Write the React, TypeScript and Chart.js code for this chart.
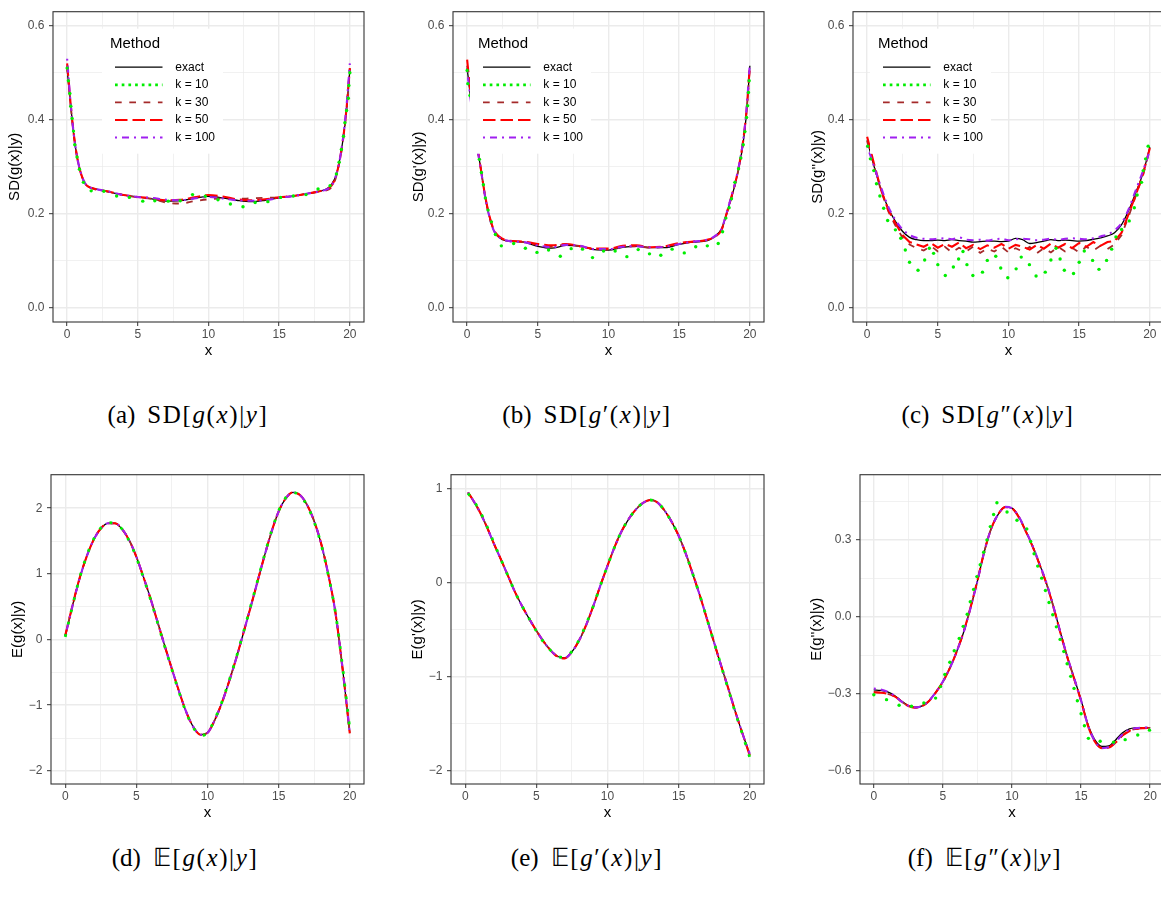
import React, { useEffect, useRef } from "react";
import { Chart, registerables } from "chart.js";

Chart.register(...registerables);

const SANS = "'Liberation Sans', Arial, Helvetica, sans-serif";
const SERIF = "'Liberation Serif', 'Times New Roman', serif";
Chart.defaults.font.family = SANS;

// ---------------- axes ----------------
const X_MIN = -1;
const X_MAX = 21;
const X_MAJOR = [0, 5, 10, 15, 20];
const X_MINOR = [2.5, 7.5, 12.5, 17.5];
const X_LABELS = ["0", "5", "10", "15", "20"];

const SD_MIN = -0.03;
const SD_MAX = 0.63;
const SD_MAJOR = [0, 0.2, 0.4, 0.6];
const SD_MINOR = [0.1, 0.3, 0.5];
const SD_LABELS = ["0.0", "0.2", "0.4", "0.6"];

const D_MIN = -2.2;
const D_MAX = 2.51;
const D_MAJOR = [-2, -1, 0, 1, 2];
const D_MINOR = [-1.5, -0.5, 0.5, 1.5];
const D_LABELS = ["\u22122", "\u22121", "0", "1", "2"];

const E_MIN = -2.142;
const E_MAX = 1.149;
const E_MAJOR = [-2, -1, 0, 1];
const E_MINOR = [-1.5, -0.5, 0.5];
const E_LABELS = ["\u22122", "\u22121", "0", "1"];

const F_MIN = -0.652;
const F_MAX = 0.5545;
const F_MAJOR = [-0.6, -0.3, 0, 0.3];
const F_MINOR = [-0.45, -0.15, 0.15, 0.45];
const F_LABELS = ["\u22120.6", "\u22120.3", "0.0", "0.3"];

// ---------------- legend ----------------
const LEGEND_TITLE = "Method";
const METHODS = ["exact", "k = 10", "k = 30", "k = 50", "k = 100"];

// ---------------- panel (a): SD[g(x)|y] ----------------
const xA = [0, 0.25, 0.5, 0.75, 1, 1.25, 1.5, 2, 3, 4, 5, 6, 7, 8, 9, 10, 11, 12, 13, 14, 15, 16, 17, 18, 18.5, 18.75, 19, 19.25, 19.5, 19.75, 20];
const exactA = [0.507, 0.43, 0.36, 0.313, 0.283, 0.265, 0.258, 0.253, 0.246, 0.24, 0.236, 0.232, 0.227, 0.228, 0.233, 0.237, 0.234, 0.229, 0.226, 0.229, 0.234, 0.238, 0.243, 0.249, 0.256, 0.265, 0.28, 0.31, 0.355, 0.418, 0.507];
const k30A = [0.515, 0.432, 0.362, 0.314, 0.284, 0.266, 0.258, 0.252, 0.247, 0.24, 0.235, 0.232, 0.224, 0.222, 0.227, 0.231, 0.233, 0.232, 0.233, 0.234, 0.235, 0.238, 0.243, 0.248, 0.252, 0.258, 0.276, 0.308, 0.352, 0.418, 0.51];
const k50A = [0.52, 0.433, 0.362, 0.314, 0.284, 0.266, 0.258, 0.253, 0.247, 0.24, 0.236, 0.233, 0.229, 0.23, 0.235, 0.24, 0.237, 0.231, 0.229, 0.231, 0.235, 0.238, 0.243, 0.249, 0.254, 0.262, 0.279, 0.309, 0.355, 0.42, 0.51];
const k100A = [0.53, 0.434, 0.362, 0.314, 0.284, 0.266, 0.258, 0.253, 0.247, 0.24, 0.236, 0.234, 0.23, 0.229, 0.233, 0.236, 0.233, 0.229, 0.228, 0.229, 0.234, 0.238, 0.243, 0.249, 0.254, 0.262, 0.28, 0.31, 0.357, 0.425, 0.52];
const k10Ax = [0, 0.09, 0.19, 0.26, 0.35, 0.45, 0.54, 0.7, 0.87, 1.15, 1.7, 2.6, 3.5, 4.4, 5.35, 6.2, 7.15, 8.0, 8.87, 9.77, 10.67, 11.55, 12.44, 13.3, 14.2, 15.1, 16.0, 16.9, 17.75, 18.6, 19.05, 19.24, 19.4, 19.55, 19.65, 19.77, 19.89, 19.93, 20];
const k10Ay = [0.51, 0.483, 0.456, 0.429, 0.403, 0.376, 0.347, 0.321, 0.295, 0.267, 0.249, 0.248, 0.238, 0.235, 0.227, 0.228, 0.227, 0.228, 0.241, 0.2375, 0.23, 0.221, 0.215, 0.224, 0.226, 0.235, 0.238, 0.241, 0.253, 0.26, 0.285, 0.31, 0.337, 0.365, 0.394, 0.42, 0.446, 0.473, 0.5];

// ---------------- panel (b): SD[g'(x)|y] ----------------
const xB = [0, 0.25, 0.5, 0.75, 1, 1.25, 1.5, 1.75, 2, 2.5, 3, 4, 5, 6, 7, 8, 9, 10, 11, 12, 13, 14, 15, 16, 17, 17.5, 18, 18.25, 18.5, 18.75, 19, 19.25, 19.5, 19.75, 20];
const exactB = [0.51, 0.445, 0.385, 0.335, 0.29, 0.24, 0.203, 0.175, 0.158, 0.145, 0.142, 0.14, 0.131, 0.127, 0.133, 0.131, 0.124, 0.123, 0.129, 0.131, 0.128, 0.128, 0.135, 0.14, 0.143, 0.152, 0.168, 0.19, 0.215, 0.24, 0.268, 0.302, 0.345, 0.41, 0.515];
const k30B = [0.515, 0.448, 0.386, 0.335, 0.29, 0.241, 0.204, 0.176, 0.159, 0.146, 0.142, 0.14, 0.134, 0.13, 0.135, 0.131, 0.125, 0.124, 0.13, 0.131, 0.128, 0.13, 0.137, 0.141, 0.144, 0.151, 0.167, 0.19, 0.215, 0.241, 0.269, 0.303, 0.347, 0.412, 0.512];
const k50B = [0.528, 0.455, 0.39, 0.337, 0.29, 0.242, 0.205, 0.177, 0.16, 0.147, 0.143, 0.141, 0.136, 0.133, 0.136, 0.131, 0.126, 0.126, 0.132, 0.133, 0.129, 0.131, 0.138, 0.141, 0.145, 0.151, 0.166, 0.19, 0.216, 0.242, 0.27, 0.305, 0.35, 0.415, 0.515];
const k100B = [0.505, 0.443, 0.384, 0.334, 0.289, 0.24, 0.203, 0.175, 0.158, 0.146, 0.142, 0.14, 0.133, 0.129, 0.134, 0.132, 0.125, 0.125, 0.13, 0.131, 0.129, 0.13, 0.136, 0.141, 0.145, 0.152, 0.168, 0.191, 0.217, 0.243, 0.271, 0.306, 0.35, 0.418, 0.52];
const k10Bx = [0, 0.05, 0.2, 0.87, 1.01, 1.15, 1.29, 1.48, 1.72, 2.0, 2.42, 3.29, 4.12, 4.94, 5.76, 6.59, 7.36, 8.16, 8.87, 9.65, 10.47, 11.3, 12.1, 12.9, 13.7, 14.5, 15.36, 16.17, 16.99, 17.76, 18.07, 18.3, 18.53, 18.7, 18.94, 19.2, 19.36, 19.53, 19.65, 19.77, 19.84, 19.9, 19.95];
const k10By = [0.505, 0.477, 0.452, 0.316, 0.288, 0.262, 0.234, 0.208, 0.183, 0.156, 0.132, 0.137, 0.127, 0.118, 0.123, 0.11, 0.126, 0.125, 0.107, 0.121, 0.121, 0.109, 0.124, 0.115, 0.112, 0.125, 0.117, 0.13, 0.132, 0.137, 0.162, 0.191, 0.213, 0.232, 0.267, 0.296, 0.319, 0.347, 0.375, 0.405, 0.43, 0.458, 0.483];

// ---------------- panel (c): SD[g''(x)|y] ----------------
const xC = [0, 0.5, 1, 1.5, 2, 2.5, 3, 3.5, 4, 4.5, 5, 5.5, 6, 6.5, 7, 7.5, 8, 8.5, 9, 9.5, 10, 10.5, 11, 11.5, 12, 12.5, 13, 13.5, 14, 14.5, 15, 15.5, 16, 16.5, 17, 17.5, 18, 18.5, 19, 19.5, 20];
const exactC = [0.357, 0.3, 0.25, 0.212, 0.184, 0.163, 0.15, 0.145, 0.143, 0.143, 0.144, 0.143, 0.145, 0.143, 0.142, 0.14, 0.141, 0.142, 0.142, 0.141, 0.142, 0.148, 0.145, 0.137, 0.139, 0.142, 0.145, 0.143, 0.144, 0.143, 0.142, 0.143, 0.146, 0.149, 0.153, 0.16, 0.177, 0.207, 0.245, 0.285, 0.342];
const k30C = [0.355, 0.3, 0.248, 0.205, 0.175, 0.15, 0.135, 0.127, 0.122, 0.132, 0.12, 0.13, 0.118, 0.128, 0.12, 0.13, 0.117, 0.126, 0.12, 0.13, 0.118, 0.127, 0.12, 0.13, 0.116, 0.127, 0.118, 0.13, 0.12, 0.128, 0.118, 0.13, 0.122, 0.132, 0.125, 0.135, 0.155, 0.195, 0.238, 0.28, 0.338];
const k50C = [0.364, 0.305, 0.25, 0.208, 0.18, 0.155, 0.14, 0.135, 0.13, 0.138, 0.128, 0.136, 0.13, 0.139, 0.127, 0.134, 0.125, 0.133, 0.128, 0.136, 0.126, 0.134, 0.13, 0.124, 0.134, 0.126, 0.137, 0.128, 0.136, 0.127, 0.138, 0.13, 0.14, 0.132, 0.14, 0.142, 0.16, 0.2, 0.24, 0.283, 0.34];
const k100C = [0.345, 0.3, 0.255, 0.215, 0.187, 0.167, 0.155, 0.149, 0.147, 0.146, 0.147, 0.148, 0.146, 0.15, 0.145, 0.144, 0.145, 0.143, 0.146, 0.147, 0.144, 0.146, 0.147, 0.146, 0.144, 0.145, 0.147, 0.145, 0.147, 0.148, 0.147, 0.146, 0.148, 0.152, 0.156, 0.165, 0.18, 0.21, 0.25, 0.29, 0.335];
const k10Cx = [0.04, 0.23, 0.47, 0.66, 0.9, 1.17, 1.45, 2.0, 2.38, 2.7, 3.0, 3.6, 4.07, 4.4, 4.7, 5.0, 5.53, 6.1, 6.47, 6.78, 7.06, 7.48, 8.16, 8.5, 9.1, 9.45, 9.95, 10.54, 10.9, 11.48, 11.95, 12.6, 13.0, 13.36, 13.65, 13.95, 14.6, 15.0, 15.36, 15.95, 16.4, 16.94, 17.3, 17.6, 18.0, 18.54, 18.9, 19.1, 19.41, 19.53, 19.7, 19.88];
const k10Cy = [0.344, 0.317, 0.292, 0.264, 0.238, 0.212, 0.186, 0.166, 0.148, 0.123, 0.097, 0.08, 0.102, 0.127, 0.116, 0.092, 0.069, 0.087, 0.104, 0.12, 0.092, 0.069, 0.076, 0.101, 0.11, 0.085, 0.064, 0.083, 0.108, 0.092, 0.068, 0.076, 0.102, 0.127, 0.104, 0.08, 0.073, 0.097, 0.121, 0.101, 0.082, 0.101, 0.125, 0.151, 0.167, 0.185, 0.213, 0.24, 0.267, 0.292, 0.317, 0.344];

// ---------------- panel (d): E[g(x)|y] ----------------
const xD = [0, 0.5, 1, 1.5, 2, 2.5, 3, 3.5, 4, 4.5, 5, 5.5, 6, 6.5, 7, 7.5, 8, 8.5, 9, 9.5, 10, 10.5, 11, 11.5, 12, 12.5, 13, 13.5, 14, 14.5, 15, 15.5, 16, 16.5, 17, 17.5, 18, 18.5, 19, 19.5, 20];
const exactD = [0.05, 0.5, 0.92, 1.26, 1.52, 1.69, 1.77, 1.77, 1.68, 1.51, 1.26, 0.95, 0.62, 0.26, -0.1, -0.45, -0.79, -1.1, -1.33, -1.45, -1.42, -1.23, -0.97, -0.65, -0.3, 0.08, 0.47, 0.87, 1.27, 1.64, 1.95, 2.15, 2.24, 2.2, 2.05, 1.8, 1.45, 0.98, 0.4, -0.45, -1.42];
const k10D = [0.04, 0.5, 0.93, 1.27, 1.53, 1.7, 1.78, 1.77, 1.68, 1.5, 1.25, 0.94, 0.61, 0.25, -0.11, -0.46, -0.8, -1.11, -1.34, -1.46, -1.42, -1.22, -0.96, -0.64, -0.29, 0.09, 0.48, 0.88, 1.28, 1.65, 1.96, 2.16, 2.24, 2.19, 2.04, 1.79, 1.44, 0.97, 0.4, -0.43, -1.36];
const k30D = [0.05, 0.51, 0.92, 1.26, 1.52, 1.69, 1.77, 1.77, 1.68, 1.51, 1.26, 0.95, 0.62, 0.26, -0.1, -0.45, -0.79, -1.1, -1.33, -1.45, -1.42, -1.23, -0.97, -0.65, -0.3, 0.08, 0.47, 0.87, 1.27, 1.64, 1.95, 2.15, 2.24, 2.2, 2.05, 1.8, 1.45, 0.98, 0.4, -0.45, -1.43];
const k50D = [0.06, 0.51, 0.93, 1.26, 1.52, 1.69, 1.77, 1.77, 1.68, 1.51, 1.26, 0.95, 0.62, 0.26, -0.1, -0.45, -0.79, -1.1, -1.33, -1.45, -1.42, -1.23, -0.97, -0.65, -0.3, 0.08, 0.47, 0.87, 1.27, 1.64, 1.95, 2.15, 2.24, 2.2, 2.05, 1.8, 1.45, 0.98, 0.4, -0.46, -1.43];
const k100D = [0.05, 0.5, 0.92, 1.26, 1.52, 1.69, 1.77, 1.77, 1.68, 1.51, 1.26, 0.95, 0.62, 0.26, -0.1, -0.45, -0.79, -1.1, -1.33, -1.45, -1.42, -1.23, -0.97, -0.65, -0.3, 0.08, 0.47, 0.87, 1.27, 1.64, 1.95, 2.15, 2.24, 2.2, 2.05, 1.8, 1.45, 0.98, 0.4, -0.45, -1.42];

// ---------------- panel (e): E[g'(x)|y] ----------------
const xE = [0.2, 0.5, 1, 1.5, 2, 2.5, 3, 3.5, 4, 4.5, 5, 5.5, 6, 6.5, 7, 7.5, 8, 8.5, 9, 9.5, 10, 10.5, 11, 11.5, 12, 12.5, 13, 13.5, 14, 14.5, 15, 15.5, 16, 16.5, 17, 17.5, 18, 18.5, 19, 19.5, 20];
const exactE = [0.96, 0.89, 0.76, 0.6, 0.42, 0.25, 0.075, -0.1, -0.25, -0.385, -0.51, -0.625, -0.72, -0.785, -0.8, -0.735, -0.615, -0.45, -0.25, -0.03, 0.18, 0.38, 0.55, 0.68, 0.78, 0.85, 0.88, 0.855, 0.77, 0.65, 0.5, 0.31, 0.09, -0.14, -0.39, -0.64, -0.89, -1.13, -1.38, -1.61, -1.83];
const k10E = [0.95, 0.89, 0.77, 0.61, 0.43, 0.25, 0.075, -0.1, -0.25, -0.385, -0.515, -0.63, -0.72, -0.785, -0.795, -0.73, -0.61, -0.44, -0.25, -0.03, 0.18, 0.38, 0.55, 0.68, 0.78, 0.85, 0.88, 0.855, 0.77, 0.65, 0.5, 0.31, 0.09, -0.14, -0.39, -0.64, -0.89, -1.14, -1.39, -1.62, -1.86];
const k30E = [0.96, 0.89, 0.76, 0.6, 0.42, 0.25, 0.075, -0.1, -0.25, -0.385, -0.51, -0.625, -0.72, -0.785, -0.8, -0.735, -0.615, -0.45, -0.25, -0.03, 0.18, 0.38, 0.55, 0.68, 0.78, 0.85, 0.88, 0.855, 0.77, 0.65, 0.5, 0.31, 0.09, -0.14, -0.39, -0.64, -0.89, -1.13, -1.38, -1.61, -1.83];
const k50E = [0.96, 0.89, 0.76, 0.6, 0.42, 0.25, 0.075, -0.1, -0.25, -0.385, -0.51, -0.625, -0.72, -0.79, -0.805, -0.735, -0.615, -0.45, -0.25, -0.03, 0.18, 0.38, 0.55, 0.68, 0.78, 0.85, 0.88, 0.855, 0.77, 0.65, 0.5, 0.31, 0.09, -0.14, -0.39, -0.64, -0.89, -1.13, -1.38, -1.61, -1.84];
const k100E = [0.96, 0.89, 0.76, 0.6, 0.42, 0.25, 0.075, -0.1, -0.25, -0.385, -0.51, -0.625, -0.72, -0.785, -0.8, -0.735, -0.615, -0.45, -0.25, -0.03, 0.18, 0.38, 0.55, 0.68, 0.78, 0.85, 0.88, 0.855, 0.77, 0.65, 0.5, 0.31, 0.09, -0.14, -0.39, -0.64, -0.89, -1.13, -1.38, -1.61, -1.82];

// ---------------- panel (f): E[g''(x)|y] ----------------
const xF = [0, 0.5, 1, 1.5, 2, 2.5, 3, 3.5, 4, 4.5, 5, 5.5, 6, 6.5, 7, 7.5, 8, 8.5, 9, 9.5, 10, 10.5, 11, 11.5, 12, 12.5, 13, 13.5, 14, 14.5, 15, 15.5, 16, 16.5, 17, 17.5, 18, 18.5, 19, 19.5, 20];
const exactF = [-0.285, -0.287, -0.293, -0.307, -0.328, -0.346, -0.353, -0.347, -0.327, -0.293, -0.252, -0.2, -0.135, -0.06, 0.035, 0.14, 0.255, 0.345, 0.4, 0.428, 0.424, 0.39, 0.335, 0.275, 0.205, 0.13, 0.04, -0.06, -0.155, -0.24, -0.325, -0.42, -0.48, -0.505, -0.503, -0.48, -0.452, -0.437, -0.433, -0.432, -0.432];
const k30F = [-0.293, -0.295, -0.3, -0.31, -0.33, -0.348, -0.354, -0.348, -0.328, -0.294, -0.253, -0.2, -0.135, -0.059, 0.036, 0.141, 0.256, 0.345, 0.4, 0.428, 0.423, 0.389, 0.334, 0.274, 0.204, 0.129, 0.039, -0.061, -0.156, -0.241, -0.327, -0.424, -0.486, -0.511, -0.509, -0.489, -0.462, -0.444, -0.437, -0.434, -0.433];
const k50F = [-0.295, -0.296, -0.3, -0.31, -0.33, -0.348, -0.354, -0.348, -0.328, -0.294, -0.253, -0.2, -0.135, -0.058, 0.037, 0.142, 0.256, 0.345, 0.4, 0.428, 0.423, 0.388, 0.333, 0.273, 0.203, 0.128, 0.038, -0.062, -0.157, -0.242, -0.328, -0.425, -0.487, -0.512, -0.51, -0.49, -0.463, -0.445, -0.437, -0.434, -0.433];
const k100F = [-0.28, -0.283, -0.292, -0.308, -0.33, -0.347, -0.353, -0.347, -0.327, -0.293, -0.252, -0.2, -0.135, -0.06, 0.035, 0.14, 0.255, 0.345, 0.4, 0.429, 0.424, 0.39, 0.336, 0.276, 0.206, 0.131, 0.04, -0.06, -0.155, -0.24, -0.326, -0.423, -0.485, -0.512, -0.509, -0.488, -0.458, -0.44, -0.434, -0.432, -0.431];
const k10Fx = [0, 0.92, 1.83, 2.73, 3.62, 4.47, 4.83, 5.14, 5.5, 5.82, 6.18, 6.47, 6.76, 6.98, 7.22, 7.46, 7.7, 7.95, 8.19, 8.43, 8.67, 8.91, 9.64, 10.36, 11.07, 11.35, 11.6, 11.86, 12.15, 12.42, 12.68, 12.95, 13.21, 13.48, 13.75, 13.99, 14.25, 14.49, 14.73, 15.0, 15.24, 15.53, 16.38, 17.35, 18.19, 19.1, 19.95];
const k10Fy = [-0.304, -0.323, -0.345, -0.349, -0.336, -0.317, -0.272, -0.225, -0.177, -0.132, -0.084, -0.037, 0.01, 0.059, 0.107, 0.157, 0.203, 0.252, 0.3, 0.352, 0.399, 0.445, 0.409, 0.377, 0.343, 0.294, 0.246, 0.198, 0.151, 0.103, 0.056, 0.008, -0.039, -0.088, -0.135, -0.183, -0.232, -0.279, -0.327, -0.378, -0.425, -0.474, -0.485, -0.489, -0.479, -0.461, -0.442];

// ---------------- captions ----------------
const CAPTION_TAGS = ["a", "b", "c", "d", "e", "f"];
const CAPTION_OPS = ["SD", "SD", "SD", "\u{1D53C}", "\u{1D53C}", "\u{1D53C}"];
const CAPTION_PRIMES = ["", "\u2032", "\u2033", "", "\u2032", "\u2033"];

// ---------------- styles ----------------
const STYLE: Record<string, any> = {
  exact: { color: "#000000", width: 1.3, dash: [], legendDash: [], legendWidth: 1.3 },
  k10: { color: "#00EE00", width: 2.8, dash: [2.8, 9.8], legendDash: [2.7, 4], legendWidth: 2.7 },
  k30: { color: "#A52A2A", width: 1.8, dash: [6.5, 7.5], legendDash: [6.7, 7.6], legendWidth: 1.8 },
  k50: { color: "#FF0000", width: 2.1, dash: [12.5, 5], legendDash: [12.5, 5], legendWidth: 2 },
  k100: { color: "#A020F0", width: 2.1, dash: [2, 5, 7, 5], legendDash: [2, 5, 7, 5], legendWidth: 2 },
};
const STYLE_KEYS = ["exact", "k10", "k30", "k50", "k100"];

function lineSet(label: string, xs: number[], ys: number[], key: string, smooth = true) {
  const s = STYLE[key];
  return {
    label,
    data: xs.map((x, i) => ({ x, y: ys[i] })),
    borderColor: s.color,
    backgroundColor: s.color,
    borderWidth: s.width,
    borderDash: s.dash,
    borderCapStyle: "butt",
    pointRadius: 0,
    fill: false,
    tension: smooth ? 0.4 : 0,
    cubicInterpolationMode: smooth ? "monotone" : "default",
  };
}

function dotSet(label: string, xs: number[], ys: number[]) {
  const s = STYLE.k10;
  return {
    label,
    data: xs.map((x, i) => ({ x, y: ys[i] })),
    showLine: false,
    pointRadius: 1.7,
    pointStyle: "circle",
    pointBackgroundColor: s.color,
    pointBorderWidth: 0,
    borderColor: s.color,
    backgroundColor: s.color,
  };
}

// ---------------- panels ----------------
const PANELS = [
  {
    id: "a", L: 53, T: 6, R: 364, B: 322, yw: 50, titlePad: 2.5, yTitle: "SD(g(x)|y)",
    yMin: SD_MIN, yMax: SD_MAX, yMajor: SD_MAJOR, yMinor: SD_MINOR, yLabels: SD_LABELS, legendDx: 49,
    datasets: () => [dotSet("k = 10", k10Ax, k10Ay), lineSet("k = 100", xA, k100A, "k100"), lineSet("k = 50", xA, k50A, "k50"), lineSet("k = 30", xA, k30A, "k30"), lineSet("exact", xA, exactA, "exact")],
  },
  {
    id: "b", L: 453, T: 6, R: 764, B: 322, yw: 50, titlePad: 6.7, yTitle: "SD(g'(x)|y)",
    yMin: SD_MIN, yMax: SD_MAX, yMajor: SD_MAJOR, yMinor: SD_MINOR, yLabels: SD_LABELS, legendDx: 17,
    datasets: () => [dotSet("k = 10", k10Bx, k10By), lineSet("k = 100", xB, k100B, "k100"), lineSet("k = 50", xB, k50B, "k50"), lineSet("k = 30", xB, k30B, "k30"), lineSet("exact", xB, exactB, "exact")],
  },
  {
    id: "c", L: 853, T: 6, R: 1164, B: 322, yw: 50, titlePad: 6.3, yTitle: "SD(g''(x)|y)",
    yMin: SD_MIN, yMax: SD_MAX, yMajor: SD_MAJOR, yMinor: SD_MINOR, yLabels: SD_LABELS, legendDx: 17,
    datasets: () => [dotSet("k = 10", k10Cx, k10Cy), lineSet("k = 100", xC, k100C, "k100"), lineSet("k = 50", xC, k50C, "k50", false), lineSet("k = 30", xC, k30C, "k30", false), lineSet("exact", xC, exactC, "exact")],
  },
  {
    id: "d", L: 51, T: 469, R: 364, B: 784, yw: 50, titlePad: 8.3, yTitle: "E(g(x)|y)",
    yMin: D_MIN, yMax: D_MAX, yMajor: D_MAJOR, yMinor: D_MINOR, yLabels: D_LABELS, legendDx: null,
    datasets: () => [lineSet("k = 10", xD, k10D, "k10"), lineSet("k = 100", xD, k100D, "k100"), lineSet("k = 50", xD, k50D, "k50"), lineSet("k = 30", xD, k30D, "k30"), lineSet("exact", xD, exactD, "exact")],
  },
  {
    id: "e", L: 451, T: 469, R: 764, B: 784, yw: 50, titlePad: 8, yTitle: "E(g'(x)|y)",
    yMin: E_MIN, yMax: E_MAX, yMajor: E_MAJOR, yMinor: E_MINOR, yLabels: E_LABELS, legendDx: null,
    datasets: () => [lineSet("k = 10", xE, k10E, "k10"), lineSet("k = 100", xE, k100E, "k100"), lineSet("k = 50", xE, k50E, "k50"), lineSet("k = 30", xE, k30E, "k30"), lineSet("exact", xE, exactE, "exact")],
  },
  {
    id: "f", L: 860, T: 469, R: 1164, B: 784, yw: 56, titlePad: 3.7, yTitle: "E(g''(x)|y)",
    yMin: F_MIN, yMax: F_MAX, yMajor: F_MAJOR, yMinor: F_MINOR, yLabels: F_LABELS, legendDx: null,
    datasets: () => [dotSet("k = 10", k10Fx, k10Fy), lineSet("k = 100", xF, k100F, "k100"), lineSet("k = 50", xF, k50F, "k50"), lineSet("k = 30", xF, k30F, "k30"), lineSet("exact", xF, exactF, "exact")],
  },
];

const PAD_TOP = 6;
const PAD_RIGHT = 4;
const X_AXIS_H = 45;

const near = (a: number, b: number) => Math.abs(a - b) < 1e-7;
const isMajor = (v: number, majors: number[]) => majors.some((m) => near(m, v));
const labelFor = (v: number, majors: number[], labels: string[]) => {
  const i = majors.findIndex((m) => near(m, v));
  return i >= 0 ? labels[i] : "";
};
const tickObjs = (majors: number[], minors: number[]) =>
  [...majors, ...minors].sort((a, b) => a - b).map((value) => ({ value }));

const panelPlugin = {
  id: "panelDecor",
  afterDatasetsDraw(chart: any, _args: any, opts: any) {
    if (opts == null || opts.legendDx == null) return;
    const { ctx, chartArea: a } = chart;
    const bx = a.left + opts.legendDx;
    const by = a.top + 17;
    ctx.save();
    ctx.fillStyle = "#FFFFFF";
    ctx.fillRect(bx, by, 121, 125);
    ctx.fillStyle = "#000000";
    ctx.textAlign = "left";
    ctx.textBaseline = "middle";
    ctx.font = `15px ${SANS}`;
    ctx.fillText(LEGEND_TITLE, bx + 8, by + 15.5);
    METHODS.forEach((m, i) => {
      const s = STYLE[STYLE_KEYS[i]];
      const y = by + 38.5 + i * 17.6;
      ctx.save();
      ctx.strokeStyle = s.color;
      ctx.lineWidth = s.legendWidth;
      ctx.lineCap = "butt";
      ctx.setLineDash(s.legendDash);
      ctx.beginPath();
      ctx.moveTo(bx + 13, y);
      ctx.lineTo(bx + 60.5, y);
      ctx.stroke();
      ctx.restore();
      ctx.fillStyle = "#000000";
      ctx.font = `12px ${SANS}`;
      ctx.fillText(m, bx + 73.3, y);
    });
    ctx.restore();
  },
  afterDraw(chart: any) {
    const { ctx, chartArea: a } = chart;
    ctx.save();
    ctx.strokeStyle = "#333333";
    ctx.lineWidth = 1.1;
    ctx.setLineDash([]);
    ctx.strokeRect(a.left, a.top, a.right - a.left, a.bottom - a.top);
    ctx.restore();
  },
};

function gridOpts(majors: number[]) {
  return {
    drawOnChartArea: true,
    drawTicks: true,
    tickLength: 4,
    color: () => "#EBEBEB",
    lineWidth: (c: any) => (c.tick && isMajor(c.tick.value, majors) ? 1.4 : 0.7),
    tickColor: (c: any) => (c.tick && isMajor(c.tick.value, majors) ? "#333333" : "rgba(0,0,0,0)"),
    tickWidth: 1,
  };
}

function Panel({ p }: { p: any }) {
  const ref = useRef<HTMLCanvasElement>(null);
  const w = p.yw + (p.R - p.L) + PAD_RIGHT;
  const h = PAD_TOP + (p.B - p.T) + X_AXIS_H;
  useEffect(() => {
    const chart = new Chart(ref.current as HTMLCanvasElement, {
      type: "line",
      data: { datasets: p.datasets() },
      plugins: [panelPlugin],
      options: {
        responsive: false,
        animation: false,
        devicePixelRatio: 1,
        layout: { padding: { top: PAD_TOP, right: PAD_RIGHT, left: 0, bottom: 0 } },
        plugins: {
          legend: { display: false },
          tooltip: { enabled: false },
          panelDecor: { legendDx: p.legendDx },
        } as any,
        scales: {
          x: {
            type: "linear",
            min: X_MIN,
            max: X_MAX,
            afterBuildTicks: (s: any) => { s.ticks = tickObjs(X_MAJOR, X_MINOR); },
            afterFit: (s: any) => { s.height = X_AXIS_H; },
            ticks: {
              autoSkip: false,
              maxRotation: 0,
              padding: 1,
              color: "#4D4D4D",
              font: { size: 12, family: SANS },
              callback: (v: any) => labelFor(Number(v), X_MAJOR, X_LABELS),
            },
            grid: gridOpts(X_MAJOR),
            border: { display: false },
            title: { display: true, text: "x", color: "#000000", font: { size: 15, family: SANS }, padding: { top: 0, bottom: 7 } },
          },
          y: {
            type: "linear",
            min: p.yMin,
            max: p.yMax,
            afterBuildTicks: (s: any) => { s.ticks = tickObjs(p.yMajor, p.yMinor); },
            afterFit: (s: any) => { s.width = p.yw; },
            ticks: {
              autoSkip: false,
              padding: 4.5,
              color: "#4D4D4D",
              font: { size: 12, family: SANS },
              callback: (v: any) => labelFor(Number(v), p.yMajor, p.yLabels),
            },
            grid: gridOpts(p.yMajor),
            border: { display: false },
            title: { display: true, text: p.yTitle, color: "#000000", font: { size: 15, family: SANS }, padding: { top: p.titlePad, bottom: 0 } },
          },
        },
      } as any,
    } as any);
    return () => chart.destroy();
  }, []);
  return (
    <canvas
      ref={ref}
      width={w}
      height={h}
      style={{ position: "absolute", left: p.L - p.yw, top: p.T - PAD_TOP, width: w, height: h, display: "block" }}
    />
  );
}

const CAPTION_POS = [
  [188, 415], [587, 415], [988, 415],
  [185, 858], [587, 858], [985, 858],
];

function Caption({ i }: { i: number }) {
  const [cx, cy] = CAPTION_POS[i];
  return (
    <div
      style={{
        position: "absolute", left: cx - 150, top: cy - 16, width: 300, height: 32,
        lineHeight: "32px", textAlign: "center", fontFamily: SERIF, fontSize: 25,
        color: "#000", whiteSpace: "nowrap",
      }}
    >
      <span>({CAPTION_TAGS[i]})</span>
      <span style={{ marginLeft: 12, letterSpacing: "1.6px" }}>
        {CAPTION_OPS[i]}[<i>g</i>{CAPTION_PRIMES[i]}(<i>x</i>)|<i>y</i>]
      </span>
    </div>
  );
}

export default function App() {
  return (
    <div style={{ position: "absolute", left: 0, top: 0, width: 1161, height: 897, overflow: "hidden", background: "#FFFFFF" }}>
      {PANELS.map((p) => (
        <Panel key={p.id} p={p} />
      ))}
      {CAPTION_TAGS.map((_, i) => (
        <Caption key={i} i={i} />
      ))}
    </div>
  );
}
